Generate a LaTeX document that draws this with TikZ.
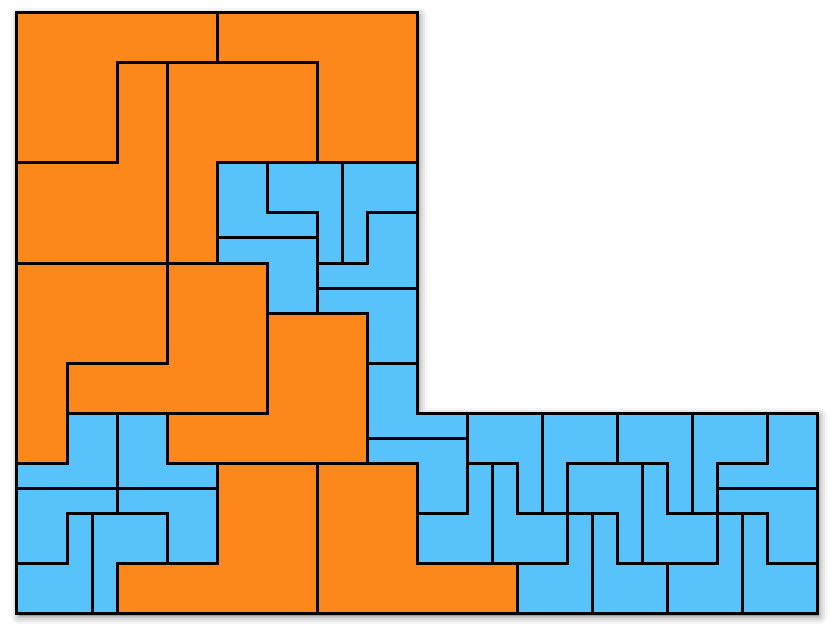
\documentclass[tikz,border=0pt]{standalone}
\definecolor{orng}{RGB}{252,136,28}
\definecolor{blu}{RGB}{88,195,250}
\tikzset{
  otile/.style={fill=orng, draw=black, line width=3pt, line join=miter},
  btile/.style={fill=blu, draw=black, line width=3pt, line join=miter},
  shade/.style={draw=black, fill=black, line join=round}
}
\begin{document}
\begin{tikzpicture}[x=25pt,y=-25pt]
\useasboundingbox (-0.68,-0.52) rectangle (32.6,24.6);
\fill[white] (-0.68,-0.52) rectangle (32.6,24.6);
% soft shadow
\begin{scope}[shift={(0.08,0.12)}]
\foreach \w/\o in {16/0.04, 12/0.05, 8/0.06, 4/0.08}
  \draw[shade, opacity=\o, line width=\w pt] (0,0)--(16,0)--(16,16)--(32,16)--(32,24)--(0,24)--cycle;
\end{scope}
% orange tiles
\draw[otile] (0,0)--(8,0)--(8,2)--(4,2)--(4,6)--(0,6)--cycle;
\draw[otile] (8,0)--(16,0)--(16,6)--(12,6)--(12,2)--(8,2)--cycle;
\draw[otile] (4,2)--(6,2)--(6,10)--(0,10)--(0,6)--(4,6)--cycle;
\draw[otile] (6,2)--(12,2)--(12,6)--(8,6)--(8,10)--(6,10)--cycle;
\draw[otile] (0,10)--(6,10)--(6,14)--(2,14)--(2,18)--(0,18)--cycle;
\draw[otile] (6,10)--(10,10)--(10,16)--(2,16)--(2,14)--(6,14)--cycle;
\draw[otile] (10,12)--(14,12)--(14,18)--(6,18)--(6,16)--(10,16)--cycle;
\draw[otile] (8,18)--(12,18)--(12,24)--(4,24)--(4,22)--(8,22)--cycle;
\draw[otile] (12,18)--(16,18)--(16,22)--(20,22)--(20,24)--(12,24)--cycle;
% blue tiles
\draw[btile] (8,6)--(10,6)--(10,8)--(12,8)--(12,9)--(8,9)--cycle;
\draw[btile] (10,6)--(13,6)--(13,10)--(12,10)--(12,8)--(10,8)--cycle;
\draw[btile] (13,6)--(16,6)--(16,8)--(14,8)--(14,10)--(13,10)--cycle;
\draw[btile] (8,9)--(12,9)--(12,12)--(10,12)--(10,10)--(8,10)--cycle;
\draw[btile] (14,8)--(16,8)--(16,11)--(12,11)--(12,10)--(14,10)--cycle;
\draw[btile] (12,11)--(16,11)--(16,14)--(14,14)--(14,12)--(12,12)--cycle;
\draw[btile] (14,14)--(16,14)--(16,16)--(18,16)--(18,17)--(14,17)--cycle;
\draw[btile] (14,17)--(18,17)--(18,20)--(16,20)--(16,18)--(14,18)--cycle;
\draw[btile] (18,16)--(21,16)--(21,20)--(20,20)--(20,18)--(18,18)--cycle;
\draw[btile] (16,20)--(18,20)--(18,18)--(19,18)--(19,22)--(16,22)--cycle;
\draw[btile] (19,18)--(20,18)--(20,20)--(22,20)--(22,22)--(19,22)--cycle;
\draw[btile] (21,16)--(24,16)--(24,18)--(22,18)--(22,20)--(21,20)--cycle;
\draw[btile] (22,18)--(25,18)--(25,22)--(24,22)--(24,20)--(22,20)--cycle;
\draw[btile] (22,20)--(23,20)--(23,24)--(20,24)--(20,22)--(22,22)--cycle;
\draw[btile] (23,20)--(24,20)--(24,22)--(26,22)--(26,24)--(23,24)--cycle;
\draw[btile] (24,16)--(27,16)--(27,20)--(26,20)--(26,18)--(24,18)--cycle;
\draw[btile] (25,18)--(26,18)--(26,20)--(28,20)--(28,22)--(25,22)--cycle;
\draw[btile] (27,16)--(30,16)--(30,18)--(28,18)--(28,20)--(27,20)--cycle;
\draw[btile] (30,16)--(32,16)--(32,19)--(28,19)--(28,18)--(30,18)--cycle;
\draw[btile] (28,19)--(32,19)--(32,22)--(30,22)--(30,20)--(28,20)--cycle;
\draw[btile] (28,20)--(29,20)--(29,24)--(26,24)--(26,22)--(28,22)--cycle;
\draw[btile] (29,20)--(30,20)--(30,22)--(32,22)--(32,24)--(29,24)--cycle;
\draw[btile] (2,16)--(4,16)--(4,19)--(0,19)--(0,18)--(2,18)--cycle;
\draw[btile] (4,16)--(6,16)--(6,18)--(8,18)--(8,19)--(4,19)--cycle;
\draw[btile] (0,19)--(4,19)--(4,20)--(2,20)--(2,22)--(0,22)--cycle;
\draw[btile] (4,19)--(8,19)--(8,22)--(6,22)--(6,20)--(4,20)--cycle;
\draw[btile] (0,22)--(2,22)--(2,20)--(3,20)--(3,24)--(0,24)--cycle;
\draw[btile] (3,20)--(6,20)--(6,22)--(4,22)--(4,24)--(3,24)--cycle;
\end{tikzpicture}
\end{document}
